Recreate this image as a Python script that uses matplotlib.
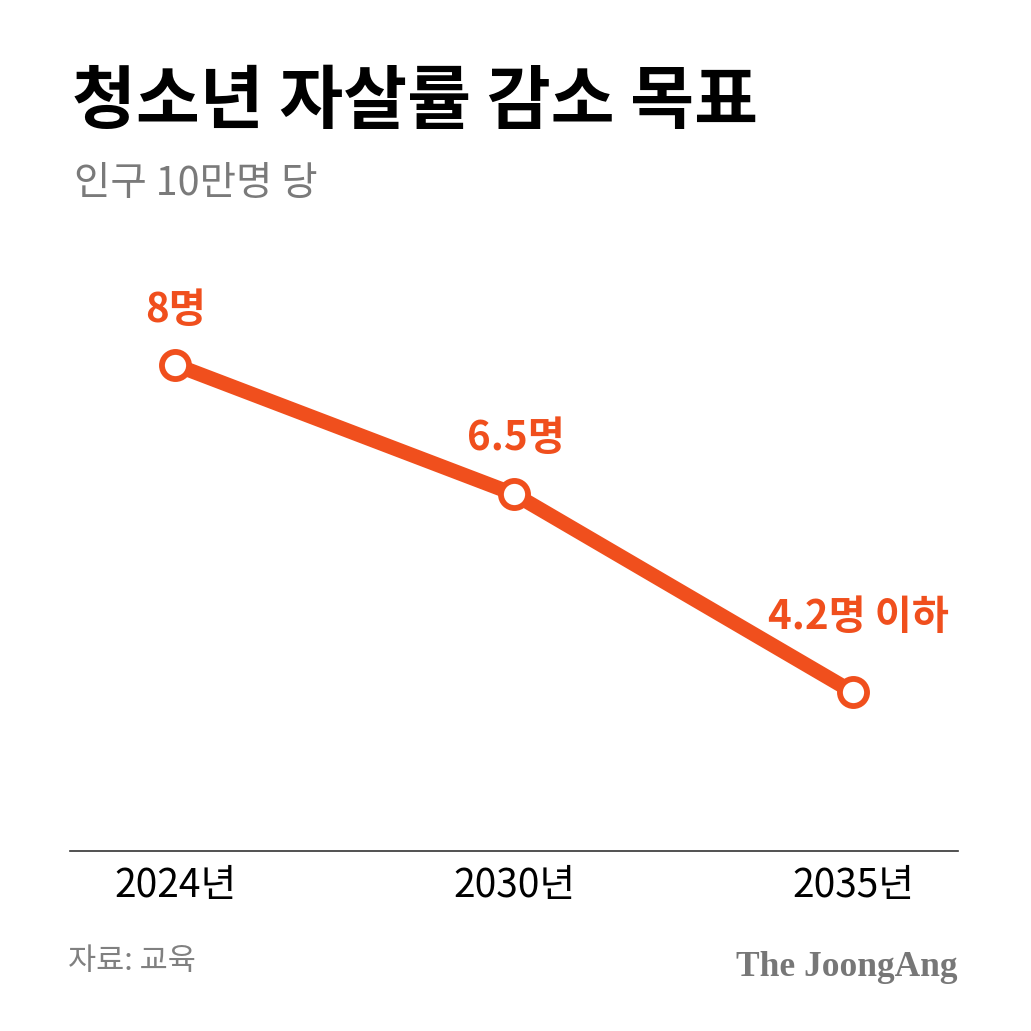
import matplotlib
matplotlib.use("Agg")
import matplotlib.pyplot as plt

plt.rcParams['font.family'] = ['Noto Sans CJK KR', 'DejaVu Sans']

# ---- data ----
years = ["2024년", "2030년", "2035년"]
rates = [8.0, 6.5, 4.2]
point_labels = ["8명", "6.5명", "4.2명 이하"]
title = "청소년 자살률 감소 목표"
subtitle = "인구 10만명 당"
source = "자료: 교육"
brand = "The JoongAng"

ORANGE = "#F04F1D"
W = H = 1031

fig = plt.figure(figsize=(W / 100, H / 100), dpi=100)
fig.patch.set_facecolor("white")

def fx(px):
    return px / W

def fy(py):
    return 1 - py / H

# axes placed in pixel layout
ax = fig.add_axes([fx(70), fy(851), fx(958) - fx(70), fy(250) - fy(851)])
xs = list(range(len(years)))
ax.plot(xs, rates, color=ORANGE, lw=10.5, solid_capstyle='butt', zorder=2)
ax.plot(xs, rates, linestyle='none', marker='o', ms=19.5, mew=4.2,
        mfc='white', mec=ORANGE, zorder=3)
ax.set_xlim(-0.31, 2.31)
ax.set_ylim(2.356, 9.332)

offsets = [(0, 39), (1, 40), (4, 54)]
for x, y, lab, (dx, dy) in zip(xs, rates, point_labels, offsets):
    ax.annotate(lab, (x, y), xytext=(dx, dy), textcoords='offset points',
                ha='center', va='center', fontsize=29, fontweight='heavy',
                color=ORANGE)

ax.set_xticks(xs)
ax.set_xticklabels(years, fontsize=28, color='black')
ax.tick_params(axis='x', length=0, pad=11)
ax.set_yticks([])
for s in ['top', 'left', 'right']:
    ax.spines[s].set_visible(False)
ax.spines['bottom'].set_color('#333333')
ax.spines['bottom'].set_linewidth(1.2)
ax.set_facecolor('none')

fig.text(fx(72), fy(103), title, fontsize=50, fontweight='black',
         color='black', ha='left', va='center')
fig.text(fx(74), fy(184), subtitle, fontsize=28.5, color='#7a7a7a',
         ha='left', va='center')
fig.text(fx(68), fy(962), source, fontsize=22, color='#808080',
         ha='left', va='center')
fig.text(fx(958), fy(967), brand, fontsize=25.5, fontweight='bold',
         family=['Liberation Serif', 'DejaVu Serif'], color='#777777',
         ha='right', va='center')

fig.savefig("out.png", dpi=100, facecolor='white')
